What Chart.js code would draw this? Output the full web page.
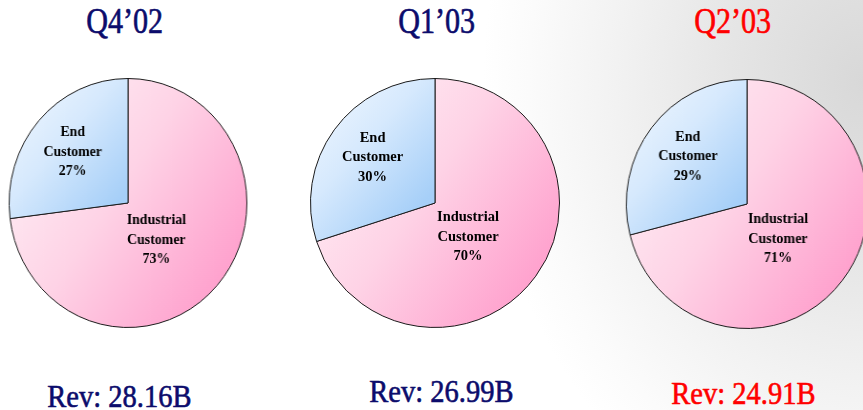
<!DOCTYPE html>
<html>
<head>
<meta charset="utf-8">
<script src="https://cdn.jsdelivr.net/npm/chart.js@4"></script>
<style>
  html, body { margin: 0; padding: 0; }
  body {
    width: 863px; height: 410px; position: relative; overflow: hidden;
    background: radial-gradient(ellipse 380px 470px at 100% 20%, #d8d8d8 0%, #e5e5e5 35%, #f2f2f2 65%, #fbfbfb 88%, #ffffff 100%);
    font-family: "Liberation Serif", "DejaVu Serif", serif;
  }
  .pie { position: absolute; width: 252px; height: 252px; }
  .pie canvas { display: block; }
  .txt { position: absolute; width: 240px; text-align: center; white-space: nowrap; -webkit-text-stroke: 0.6px currentColor; }
  .txt span { display: inline-block; }
  .title { font-size: 35px; line-height: 35px; }
  .title span { transform: scaleX(0.86); }
  .rev { font-size: 31px; line-height: 31px; }
  .rev span { transform: scaleX(0.92); }
</style>
</head>
<body>
<div class="pie" id="p0"><canvas id="c0" width="252" height="252"></canvas></div>
<div class="pie" id="p1"><canvas id="c1" width="252" height="252"></canvas></div>
<div class="pie" id="p2"><canvas id="c2" width="252" height="252"></canvas></div>

<script>
// data
const quarters = ['Q4’02', 'Q1’03', 'Q2’03'];
const categories = ['Industrial\nCustomer', 'End\nCustomer'];
const industrialShare = [73, 70, 71];
const endShare = [27, 30, 29];
const revenue = [28.16, 26.99, 24.91];

// look
const navy = '#0c0c6c';
const highlight = '#ff0000';
const currentQuarter = 2;
const pieBoxes = [
    { left: 2, top: 77, sx: 0.955, titleX: 125, revX: 119, revTop: 381 },
    { left: 309, top: 77, sx: 1.0, titleX: 437, revX: 441, revTop: 376 },
    { left: 621, top: 78, sx: 0.97, titleX: 733, revX: 743, revTop: 378 }
];

function sliceFill(context) {
    const chart = context.chart;
    const area = chart.chartArea;
    if (!area) return '#ffc0dd';
    const c = chart.ctx;
    const cx = (area.left + area.right) / 2;
    const cy = (area.top + area.bottom) / 2;
    const r = Math.min(area.width, area.height) / 2;
    if (context.dataIndex === 1) {
        const g = c.createLinearGradient(cx - r, cy - r, cx, cy - r * 0.1);
        g.addColorStop(0, '#f4f9ff');
        g.addColorStop(0.5, '#d6e9fd');
        g.addColorStop(1, '#a6cff8');
        return g;
    }
    const g = c.createLinearGradient(cx - r, cy - r * 0.7, cx + r, cy + r * 0.7);
    g.addColorStop(0, '#fff2f7');
    g.addColorStop(0.45, '#fed3e6');
    g.addColorStop(1, '#ff98c9');
    return g;
}

const sliceLabels = {
    id: 'sliceLabels',
    afterDatasetsDraw(chart) {
        const ctx = chart.ctx;
        const meta = chart.getDatasetMeta(0);
        const values = chart.data.datasets[0].data;
        const factor = [0.38, 0.62];
        const bias = [0.17, 0];
        ctx.save();
        ctx.font = 'bold 14.5px "Liberation Serif", serif';
        ctx.fillStyle = '#000';
        ctx.textAlign = 'center';
        ctx.textBaseline = 'middle';
        meta.data.forEach((arc, i) => {
            const p = arc.getProps(['x', 'y', 'startAngle', 'endAngle', 'outerRadius'], true);
            const mid = (p.startAngle + p.endAngle) / 2 + bias[i];
            const d = p.outerRadius * factor[i];
            const x = p.x + Math.cos(mid) * d;
            const y = p.y + Math.sin(mid) * d;
            const lines = chart.data.labels[i].split('\n').concat(values[i] + '%');
            const lh = 19.5;
            lines.forEach((t, k) => {
                ctx.fillText(t, x, y + (k - (lines.length - 1) / 2) * lh);
            });
        });
        ctx.restore();
    }
};

quarters.forEach((q, i) => {
    const box = pieBoxes[i];
    const wrap = document.getElementById('p' + i);
    wrap.style.left = box.left + 'px';
    wrap.style.top = box.top + 'px';
    wrap.style.transform = 'scaleX(' + box.sx + ')';

    const color = i === currentQuarter ? highlight : navy;

    const title = document.createElement('div');
    title.className = 'txt title';
    title.style.left = (box.titleX - 120) + 'px';
    title.style.top = '4px';
    title.style.color = color;
    title.innerHTML = '<span>' + q + '</span>';
    document.body.appendChild(title);

    const rev = document.createElement('div');
    rev.className = 'txt rev';
    rev.style.left = (box.revX - 120) + 'px';
    rev.style.top = box.revTop + 'px';
    rev.style.color = color;
    rev.innerHTML = '<span>Rev: ' + revenue[i].toFixed(2) + 'B</span>';
    document.body.appendChild(rev);

    new Chart(document.getElementById('c' + i), {
        type: 'pie',
        data: {
            labels: categories,
            datasets: [{
                data: [industrialShare[i], endShare[i]],
                backgroundColor: sliceFill,
                borderColor: '#1a1a1a',
                borderWidth: 1
            }]
        },
        options: {
            responsive: false,
            animation: false,
            layout: { padding: 1 },
            plugins: {
                legend: { display: false },
                tooltip: { enabled: false }
            }
        },
        plugins: [sliceLabels]
    });
});
</script>
</body>
</html>
